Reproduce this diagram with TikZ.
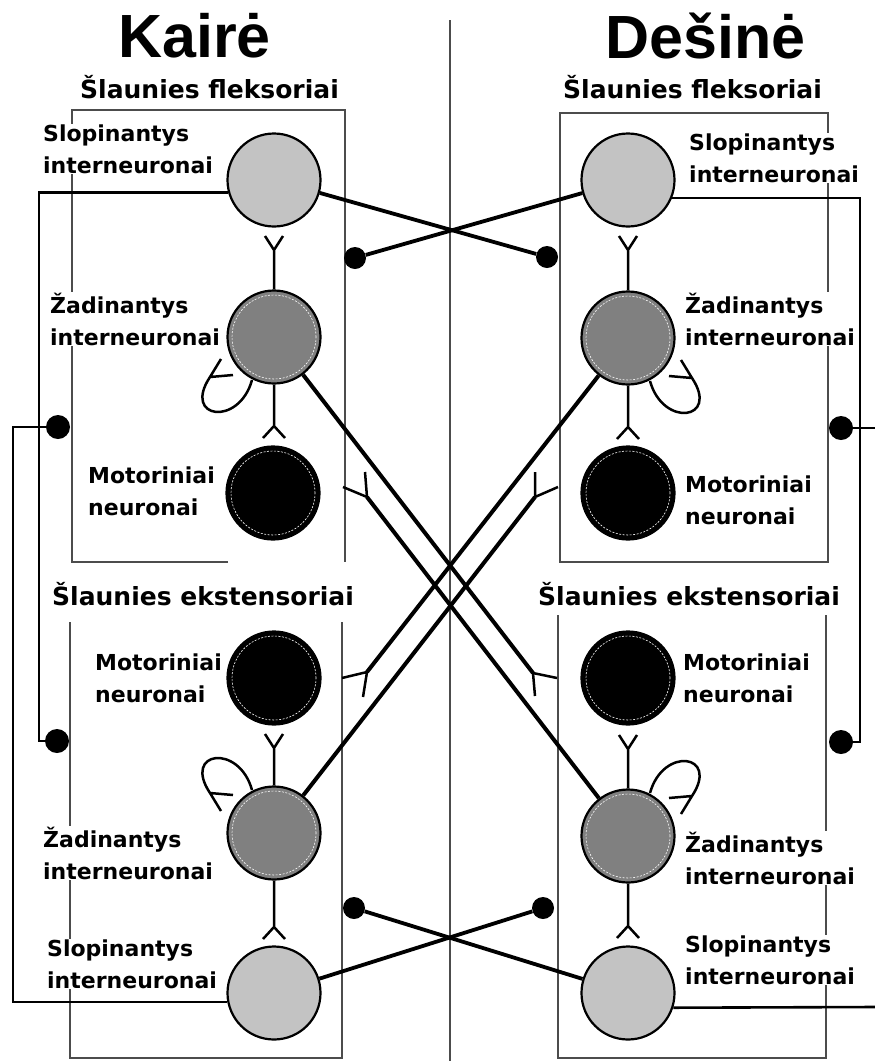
\documentclass[tikz,border=0pt]{standalone}
\usepackage{fontspec}
\newfontfamily\ttlfont{Liberation Sans}
\newfontfamily\lblfont{DejaVu Sans}
\definecolor{slopgray}{HTML}{C3C3C3}
\definecolor{zadgray}{HTML}{808080}

\begin{document}
\begin{tikzpicture}[x=1pt,y=-1pt]
                \tikzset{neuron/.style = {shape=circle,draw,line width=2.2pt,minimum size=93pt,inner sep=0pt}}
                \tikzset{ring/.style = {path picture={\draw[white,line width=0.6pt,dash pattern=on 2pt off 1.5pt] (path picture bounding box.center) circle (42pt);}}}
                \tikzset{slop/.style = {neuron,fill=slopgray}}
                \tikzset{zad/.style = {neuron,fill=zadgray,ring}}
                \tikzset{motor/.style = {neuron,fill=black,ring}}
                \tikzset{dot/.style = {shape=circle,fill=black,inner sep=0pt,minimum size=22pt}}
                \tikzset{lbl/.style = {anchor=base west,align=left,fill=white,inner sep=1pt,font=\lblfont\bfseries\fontsize{22}{31.5}\selectfont}}
                \tikzset{head/.style = {anchor=base west,inner sep=0pt,font=\lblfont\bfseries\fontsize{25}{30}\selectfont}}
                \tikzset{ttl/.style = {anchor=base west,inner sep=0pt,font=\ttlfont\bfseries\fontsize{61}{70}\selectfont}}
                \tikzset{frame/.style = {line width=1.3pt,black!70}}
                \tikzset{syn/.style = {line width=2.5pt}}
                \tikzset{cross/.style = {line width=4pt}}
                \tikzset{inh/.style = {line width=3.8pt}}
                \tikzset{fb/.style = {line width=2.6pt}}
                \tikzset{selfloop/.pic = {\draw[syn] (-22,43) .. controls (-35,90) and (-92,82) .. (-64,40) -- (-53,22) (-64,40) -- (-41,38);}}
                \useasboundingbox (0,0) rectangle (875,1061);
                % frames
                \draw[frame] (228,562) -- (72,562) -- (72,110) -- (345,110) -- (345,562);
                \draw[frame] (560,113) rectangle (828,562);
                \draw[frame] (70,622) -- (70,1058) -- (342,1058) -- (342,622);
                \draw[frame] (558,615) -- (558,1058) -- (826,1058) -- (826,615);
                \draw[frame] (450,20) -- (450,1061);
                % titles
                \node[ttl] (kaire) at (118,57) {Kairė};
                \node[ttl] (desine) at (605,58) {Dešinė};
                \node[head] (flexL) at (80,98) {Šlaunies fleksoriai};
                \node[head] (flexR) at (563,98) {Šlaunies fleksoriai};
                \node[head] (extL) at (52,605) {Šlaunies ekstensoriai};
                \node[head] (extR) at (538,605) {Šlaunies ekstensoriai};
                % labels (base = last line)
                \node[lbl] (tsL1) at (42,173) {Slopinantys\\interneuronai};
                \node[lbl] (tzL1) at (49,345) {Žadinantys\\interneuronai};
                \node[lbl] (tmL1) at (87,515) {Motoriniai\\neuronai};
                \node[lbl] (tmL2) at (94,702) {Motoriniai\\neuronai};
                \node[lbl] (tzL2) at (42,879) {Žadinantys\\interneuronai};
                \node[lbl] (tsL2) at (46,988) {Slopinantys\\interneuronai};
                \node[lbl] (tsR1) at (688,182) {Slopinantys\\interneuronai};
                \node[lbl] (tzR1) at (684,345) {Žadinantys\\interneuronai};
                \node[lbl] (tmR1) at (684,524) {Motoriniai\\neuronai};
                \node[lbl] (tmR2) at (682,702) {Motoriniai\\neuronai};
                \node[lbl] (tzR2) at (684,884) {Žadinantys\\interneuronai};
                \node[lbl] (tsR2) at (684,984) {Slopinantys\\interneuronai};
                % neurons
                \node[slop] (sL1) at (274,180) {};
                \node[zad] (zL1) at (274,337) {};
                \node[motor] (mL1) at (273,493) {};
                \node[motor] (mL2) at (274,678) {};
                \node[zad] (zL2) at (274,833) {};
                \node[slop] (sL2) at (274,993) {};
                \node[slop] (sR1) at (628,180) {};
                \node[zad] (zR1) at (628,338) {};
                \node[motor] (mR1) at (628,493) {};
                \node[motor] (mR2) at (628,678) {};
                \node[zad] (zR2) at (628,836) {};
                \node[slop] (sR2) at (628,993) {};
                % inhibitory endings
                \node[dot] (dTL) at (355,258) {};
                \node[dot] (dTR) at (547,257) {};
                \node[dot] (dBL) at (354,908) {};
                \node[dot] (dBR) at (543,908) {};
                \node[dot,minimum size=24pt] (dL1) at (58,427) {};
                \node[dot,minimum size=24pt] (dL2) at (57,741) {};
                \node[dot,minimum size=24pt] (dR1) at (841,428) {};
                \node[dot,minimum size=24pt] (dR2) at (841,742) {};
                % fork points
                \coordinate (yL1u) at (274,250);
                \coordinate (yL1d) at (274,426);
                \coordinate (yL2u) at (274,748);
                \coordinate (yL2d) at (274,927);
                \coordinate (yR1u) at (628,250);
                \coordinate (yR1d) at (628,427);
                \coordinate (yR2u) at (628,749);
                \coordinate (yR2d) at (628,926);
                \coordinate (fLF) at (367,497);
                \coordinate (fRF) at (535,497);
                \coordinate (fLE) at (367,672);
                \coordinate (fRE) at (533,673);
                \coordinate (bL1) at (39,741);
                \coordinate (bL2) at (13,427);
                \coordinate (bR1) at (860,742);
                \coordinate (eR1) at (875,428);
                \coordinate (eR2) at (875,1007);
                % stems
                \draw[syn] (zL1) -- (yL1u) -- ++(-9,-14) (yL1u) -- ++(9,-14);
                \draw[syn] (zL1) -- (yL1d) -- ++(-11,12) (yL1d) -- ++(11,12);
                \draw[syn] (zL2) -- (yL2u) -- ++(-9,-14) (yL2u) -- ++(9,-14);
                \draw[syn] (zL2) -- (yL2d) -- ++(-11,12) (yL2d) -- ++(11,12);
                \draw[syn] (zR1) -- (yR1u) -- ++(-9,-14) (yR1u) -- ++(9,-14);
                \draw[syn] (zR1) -- (yR1d) -- ++(-11,12) (yR1d) -- ++(11,12);
                \draw[syn] (zR2) -- (yR2u) -- ++(-9,-14) (yR2u) -- ++(9,-14);
                \draw[syn] (zR2) -- (yR2d) -- ++(-11,12) (yR2d) -- ++(11,12);
                % self loops
                \pic at (zL1) {selfloop};
                \pic[xscale=-1] at (zR1) {selfloop};
                \pic[yscale=-1] at (zL2) {selfloop};
                \pic[xscale=-1,yscale=-1] at (zR2) {selfloop};
                % crossed excitation
                \draw[cross] (zL1) -- (fRE);
                \draw[cross] (zR1) -- (fLE);
                \draw[cross] (zL2) -- (fRF);
                \draw[cross] (zR2) -- (fLF);
                \draw[syn] (fLF) -- ++(-2,-25) (fLF) -- ++(-24,-10);
                \draw[syn] (fRF) -- ++(0,-25) (fRF) -- ++(23,-10);
                \draw[syn] (fLE) -- ++(-4,25) (fLE) -- ++(-25,6);
                \draw[syn] (fRE) -- ++(2,23) (fRE) -- ++(24,5);
                % crossed inhibition
                \draw[inh] (sL1) -- (dTR);
                \draw[inh] (sR1) -- (dTL);
                \draw[inh] (sL2) -- (dBR);
                \draw[inh] (sR2) -- (dBL);
                % feedback
                \draw[fb] (sL1.195) -| (bL1) -- (dL2);
                \draw[fb] (sL2.191) -| (bL2) -- (dL1);
                \draw[fb] (sR1.338) -| (bR1) -- (dR2);
                \draw[fb] (sR2.342) -- (eR2);
                \draw[fb] (dR1) -- (eR1);
            \end{tikzpicture}
\end{document}
